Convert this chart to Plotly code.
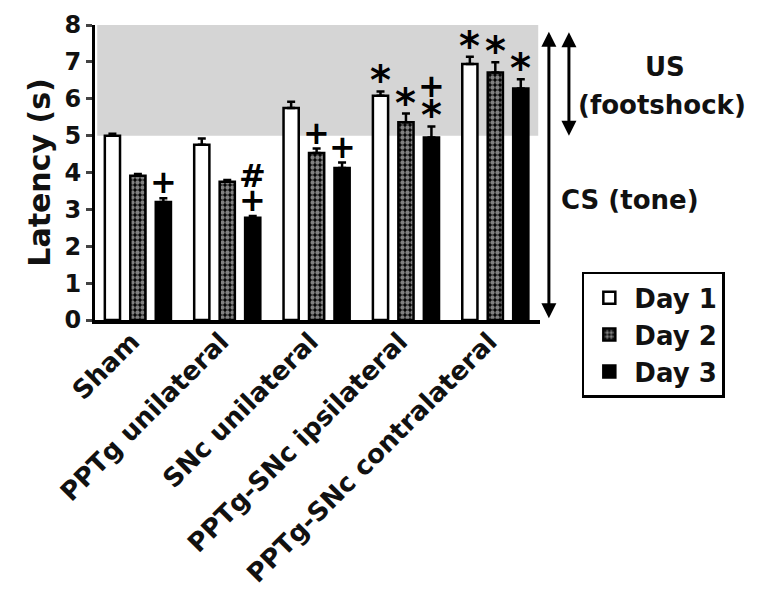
import plotly.graph_objects as go

groups = ["Sham", "PPTg unilateral", "SNc unilateral", "PPTg-SNc ipsilateral", "PPTg-SNc contralateral"]
days = ["Day 1", "Day 2", "Day 3"]
day1 = [5.0, 4.75, 5.75, 6.08, 6.94]
day2 = [3.91, 3.75, 4.53, 5.36, 6.71]
day3 = [3.2, 2.77, 4.12, 4.95, 6.28]
err1 = [0.05, 0.17, 0.17, 0.12, 0.2]
err2 = [0.05, 0.05, 0.12, 0.24, 0.28]
err3 = [0.1, 0.05, 0.15, 0.3, 0.25]
# significance marks: (group index, day index, text, stack level)
marks = [
    (0, 2, "+", 0),
    (1, 2, "+", 0), (1, 2, "#", 1),
    (2, 1, "+", 0), (2, 2, "+", 0),
    (3, 0, "*", 0), (3, 1, "*", 0), (3, 2, "*", 0), (3, 2, "+", 1),
    (4, 0, "*", 0), (4, 1, "*", 0), (4, 2, "*", 0),
]

FONT = "DejaVu Sans"
bar_w = 0.17
centers = [-0.285, 0.0, 0.285]
values = [day1, day2, day3]
errs = [err1, err2, err3]

fig = go.Figure()
styles = [
    dict(color="white", line=dict(color="black", width=2.5)),
    dict(color="black", line=dict(color="black", width=2.5),
         pattern=dict(shape=".", fgcolor="white", bgcolor="black", size=5, solidity=0.6)),
    dict(color="black", line=dict(color="black", width=2.5)),
]
for i in range(3):
    fig.add_trace(go.Bar(
        x=groups, y=values[i], name=days[i],
        width=bar_w, offset=centers[i] - bar_w / 2,
        marker=styles[i],
        error_y=dict(type="data", array=errs[i], arrayminus=[0] * len(groups),
                     symmetric=False, thickness=2.5, width=4, color="black"),
    ))

# shaded US zone
fig.add_shape(type="rect", xref="paper", yref="y", x0=0.005, x1=0.996, y0=5, y1=8,
              fillcolor="#d5d5d5", line=dict(width=0), layer="below")

annotations = []
for g, d, txt, lvl in marks:
    top = values[d][g] + errs[d][g]
    star = txt == "*"
    annotations.append(dict(
        x=g + centers[d], y=top, xref="x", yref="y", text=txt, showarrow=False,
        yanchor="bottom", yshift=(-14 if star else -5) + lvl * 24,
        font=dict(family=FONT, size=40 if star else 32, color="black", weight="bold"),
    ))

# arrows
annotations.append(dict(x=1.02, y=0.05, xref="paper", yref="y", text="", showarrow=True,
                        ax=0, ay=-288, axref="pixel", ayref="pixel", arrowhead=2, arrowside="end+start",
                        arrowwidth=3, arrowsize=1, arrowcolor="black"))
annotations.append(dict(x=1.065, y=5.0, xref="paper", yref="y", text="", showarrow=True,
                        ax=0, ay=-105, axref="pixel", ayref="pixel", arrowhead=2, arrowside="end+start",
                        arrowwidth=3, arrowsize=1, arrowcolor="black"))
for txt, xp, yv in [("US", 1.28, 6.86), ("(footshock)", 1.274, 5.83), ("CS (tone)", 1.202, 3.25)]:
    annotations.append(dict(x=xp, y=yv, xref="paper", yref="y", text=txt, showarrow=False,
                            xanchor="center", yanchor="middle",
                            font=dict(family=FONT, size=26, color="#111", weight="bold")))

fig.update_layout(
    width=751, height=600,
    margin=dict(l=87, r=219, t=17, b=288, autoexpand=False),
    plot_bgcolor="white", paper_bgcolor="white",
    barmode="overlay",
    showlegend=True,
    legend=dict(x=1.094, y=0.163, xanchor="left", yanchor="top",
                bordercolor="black", borderwidth=2.5, bgcolor="white",
                font=dict(family=FONT, size=26, color="#111", weight="bold"),
                itemwidth=40, tracegroupgap=0),
    annotations=annotations,
    font=dict(family=FONT, color="#111"),
)
fig.update_xaxes(range=[-0.48, 4.5], showline=True, linecolor="black", linewidth=4,
                 ticks="", tickangle=-45, automargin=False,
                 ticklabelstandoff=-8, ticklabelshift=-6,
                 tickfont=dict(family=FONT, size=26, color="#111", weight="bold"))
fig.update_yaxes(range=[0, 8], tickvals=list(range(9)), showline=True, linecolor="black", linewidth=3,
                 ticks="outside", ticklen=6, tickwidth=3, showgrid=False, zeroline=False, automargin=False,
                 tickfont=dict(family=FONT, size=24, color="#111", weight="bold"),
                 title=dict(text="Latency (s)", standoff=5,
                            font=dict(family=FONT, size=30, color="#111", weight="bold")))

fig.write_html("out.html")
